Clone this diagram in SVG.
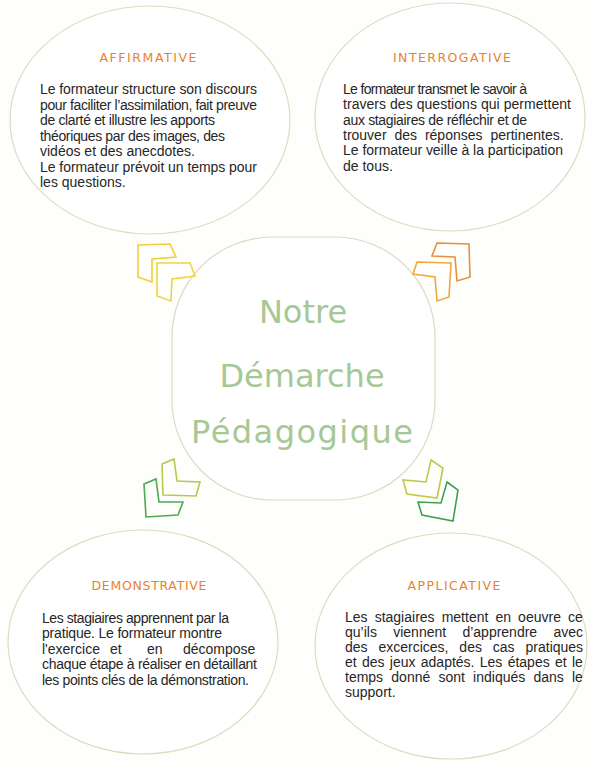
<svg xmlns="http://www.w3.org/2000/svg" width="599" height="773" viewBox="0 0 599 773">
<style>
.bubble{fill:#ffffff;stroke:#dcdcc0;stroke-width:1.2}
.title{font-family:"DejaVu Sans",sans-serif;font-size:12.5px;fill:#ea7f2e;text-anchor:middle}
.body{font-family:"Liberation Sans",Arial,sans-serif;font-size:14px;fill:#262626}
.center{font-family:"DejaVu Sans",sans-serif;font-size:32px;fill:#a6c895;text-anchor:middle}
.chev{fill:none;stroke-width:1.6;stroke-linejoin:miter}
</style>
<rect width="599" height="773" fill="#fefefc"/>
<g id="affirmative">
<ellipse class="bubble" cx="150" cy="120" rx="140" ry="114"/>
<text class="title" x="148" y="62" textLength="97">AFFIRMATIVE</text>
<text class="body" x="40" y="94" textLength="217">Le formateur structure son discours</text>
<text class="body" x="40" y="109.5" textLength="217">pour faciliter l’assimilation, fait preuve</text>
<text class="body" x="40" y="125" textLength="175">de clarté et illustre les apports</text>
<text class="body" x="40" y="140.5" textLength="185">théoriques par des images, des</text>
<text class="body" x="40" y="156">vidéos et des anecdotes.</text>
<text class="body" x="40" y="171.5" textLength="217">Le formateur prévoit un temps pour</text>
<text class="body" x="40" y="187">les questions.</text>
</g>
<g id="interrogative">
<ellipse class="bubble" cx="450" cy="117" rx="135" ry="114"/>
<text class="title" x="452" y="62" textLength="118">INTERROGATIVE</text>
<text class="body" x="343" y="94" textLength="184">Le formateur transmet le savoir à</text>
<text class="body" x="343" y="109.3" textLength="228">travers des questions qui permettent</text>
<text class="body" x="343" y="124.6" textLength="184">aux stagiaires de réfléchir et de</text>
<text class="body" x="343" y="139.9" word-spacing="4">trouver des réponses pertinentes.</text>
<text class="body" x="343" y="155.2" textLength="220">Le formateur veille à la participation</text>
<text class="body" x="343" y="170.5">de tous.</text>
</g>
<g id="demonstrative">
<ellipse class="bubble" cx="143" cy="642" rx="135" ry="112"/>
<text class="title" x="149" y="590" textLength="115">DEMONSTRATIVE</text>
<text class="body" x="42" y="622.5" textLength="187">Les stagiaires apprennent par la</text>
<text class="body" x="42" y="638" textLength="180">pratique. Le formateur montre</text>
<text class="body" y="653.5"><tspan x="42">l'exercice</tspan><tspan x="110">et</tspan><tspan x="147">en</tspan><tspan x="183">décompose</tspan></text>
<text class="body" x="42" y="669" textLength="215">chaque étape à réaliser en détaillant</text>
<text class="body" x="42" y="684.5" textLength="207">les points clés de la démonstration.</text>
</g>
<g id="applicative">
<ellipse class="bubble" cx="451" cy="646" rx="136" ry="113"/>
<text class="title" x="454" y="590" textLength="93">APPLICATIVE</text>
<text class="body" x="345" y="622" word-spacing="3.2">Les stagiaires mettent en oeuvre ce</text>
<text class="body" x="345" y="637" word-spacing="12.4">qu’ils viennent d’apprendre avec</text>
<text class="body" x="345" y="652" word-spacing="7">des excercices, des cas pratiques</text>
<text class="body" x="345" y="667" word-spacing="1.4">et des jeux adaptés. Les étapes et le</text>
<text class="body" x="345" y="682" word-spacing="4.3">temps donné sont indiqués dans le</text>
<text class="body" x="345" y="697">support.</text>
</g>
<g id="center">
<rect x="172" y="237" width="263" height="263" rx="100" ry="100" class="bubble"/>
<text class="center" x="303" y="323">Notre</text>
<text class="center" x="302" y="387">Démarche</text>
<text class="center" x="302" y="443" textLength="222">Pédagogique</text>
</g>
<g id="connectors">
<polygon class="chev" stroke="#f2cf3a" points="138,245 170,244 176,257 152,259 152,282 138,277"/>
<polygon class="chev" stroke="#f0d440" points="157,263 190,263 195,276 172,279 171,301 157,296"/>
<polygon class="chev" stroke="#e8903a" points="437,243 469,244 470,277 457,281 455,257 432,256"/>
<polygon class="chev" stroke="#f0a83c" points="417,262 451,263 449,297 437,301 435,277 413,274"/>
<polygon class="chev" stroke="#b8c850" points="162,464 174,459 177,481 200,482 196,496 163,495"/>
<polygon class="chev" stroke="#4caa50" points="144,484 156,479 159,502 183,502 178,515 146,517"/>
<polygon class="chev" stroke="#bfc84a" points="431,460 443,468 437,498 407,494 403,480 426,482"/>
<polygon class="chev" stroke="#3da050" points="447,482 458,490 453,521 422,515 418,502 441,503"/>
</g>
</svg>
